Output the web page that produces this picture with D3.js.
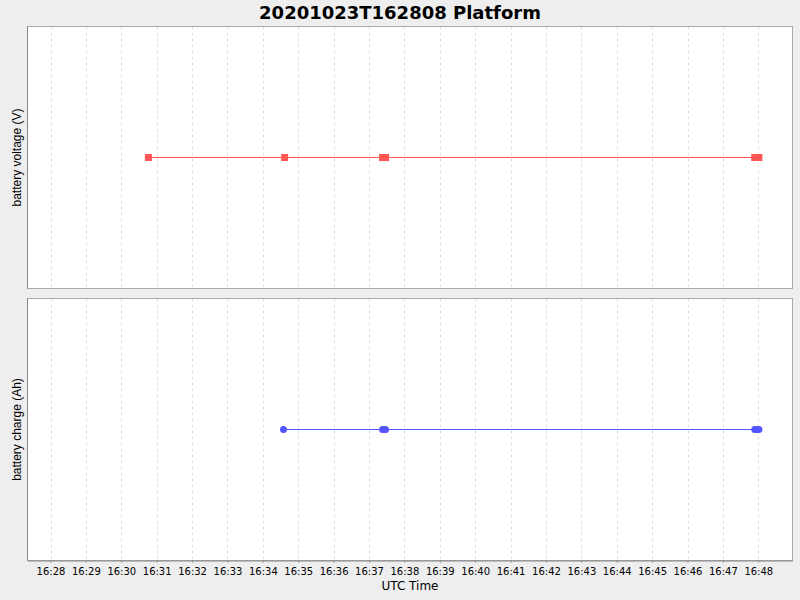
<!DOCTYPE html>
<html>
<head>
<meta charset="utf-8">
<script src="https://cdn.jsdelivr.net/npm/d3@7"></script>
<style>
  html, body { margin: 0; padding: 0; background: #eeeeee; }
  svg { display: block; font-family: "DejaVu Sans", sans-serif; }
</style>
</head>
<body>
<div id="canvas"></div>
<script>
(function(d3){

  // data (times UTC on 2020-10-23)
  var voltageTimes = ['16:30:46', '16:34:37', '16:37:23', '16:37:28', '16:47:54', '16:47:58', '16:48:01'],
      voltageValues = [12.0, 12.0, 12.0, 12.0, 12.0, 12.0, 12.0],
      chargeTimes = ['16:34:35', '16:37:23', '16:37:28', '16:47:54', '16:47:58', '16:48:01'],
      chargeValues = [0.0, 0.0, 0.0, 0.0, 0.0, 0.0],
      timeDomain = ['16:27:21', '16:48:58'],
      title = '20201023T162808 Platform',
      panelLabels = ['battery voltage (V)', 'battery charge (Ah)'];

  var parse = function(s){ return d3.utcParse('%Y-%m-%d %H:%M:%S')('2020-10-23 ' + s); };

  var canvas_d = {width: 800, height: 600},
      plot = {left: 27.5, right: 792.5},
      panels = [
        {top: 26.5, bottom: 288.5, times: voltageTimes, values: voltageValues,
         color: '#ff5555', shape: 'square', label: panelLabels[0]},
        {top: 298.5, bottom: 560.5, times: chargeTimes, values: chargeValues,
         color: '#5555ff', shape: 'circle', label: panelLabels[1]}
      ];

  var svg = d3.select('#canvas').append('svg')
      .attr('width', canvas_d.width)
      .attr('height', canvas_d.height);

  svg.append('rect')
      .attr('width', canvas_d.width)
      .attr('height', canvas_d.height)
      .attr('fill', '#eeeeee');

  var x = d3.scaleUtc()
      .domain(timeDomain.map(parse))
      .range([plot.left, plot.right]);

  var ticks = x.ticks(d3.utcMinute.every(1));

  svg.append('text')
      .attr('x', canvas_d.width / 2)
      .attr('y', 19)
      .attr('text-anchor', 'middle')
      .attr('font-size', 18)
      .attr('font-weight', 'bold')
      .text(title);

  panels.forEach(function(p){
    var v = p.values[0];
    var y = d3.scaleLinear()
        .domain([v - 1, v + 1])
        .range([p.bottom, p.top]);
    var py = function(d){ return Math.floor(y(d.v)); };

    var g = svg.append('g');

    g.append('rect')
        .attr('x', plot.left)
        .attr('y', p.top)
        .attr('width', plot.right - plot.left)
        .attr('height', p.bottom - p.top)
        .attr('fill', '#ffffff');

    // vertical grid
    g.selectAll('line.grid')
        .data(ticks)
      .enter().append('line')
        .attr('class', 'grid')
        .attr('x1', function(d){ return Math.round(x(d)) + 0.5; })
        .attr('x2', function(d){ return Math.round(x(d)) + 0.5; })
        .attr('y1', p.top)
        .attr('y2', p.bottom)
        .attr('stroke', '#dddddd')
        .attr('stroke-dasharray', '3,3');

    var pts = p.times.map(function(t, i){ return {t: parse(t), v: p.values[i]}; });

    g.append('path')
        .datum(pts)
        .attr('fill', 'none')
        .attr('stroke', p.color)
        .attr('stroke-width', 1)
        .attr('d', d3.line()
          .x(function(d){ return x(d.t); })
          .y(function(d){ return py(d) + 0.5; }));

    if (p.shape === 'square') {
      g.selectAll('rect.pt')
          .data(pts)
        .enter().append('rect')
          .attr('class', 'pt')
          .attr('x', function(d){ return x(d.t) - 3.5; })
          .attr('y', function(d){ return py(d) - 3; })
          .attr('width', 7)
          .attr('height', 7)
          .attr('fill', p.color);
    } else {
      g.selectAll('circle.pt')
          .data(pts)
        .enter().append('circle')
          .attr('class', 'pt')
          .attr('cx', function(d){ return x(d.t); })
          .attr('cy', function(d){ return py(d) + 0.5; })
          .attr('r', 3.5)
          .attr('fill', p.color);
    }

    // border
    g.append('rect')
        .attr('x', plot.left)
        .attr('y', p.top)
        .attr('width', plot.right - plot.left)
        .attr('height', p.bottom - p.top)
        .attr('fill', 'none')
        .attr('stroke', '#aaaaaa');

    g.append('line')
        .attr('x1', plot.left).attr('x2', plot.left)
        .attr('y1', p.top).attr('y2', p.bottom)
        .attr('stroke', '#888888');

    g.append('text')
        .attr('transform', 'translate(21,' + ((p.top + p.bottom) / 2) + ') rotate(-90)')
        .attr('text-anchor', 'middle')
        .attr('font-family', '"Liberation Sans", Arial, sans-serif')
        .attr('font-size', 12)
        .text(p.label);
  });

  // x axis under the lower panel
  var xAxis = svg.append('g')
      .attr('transform', 'translate(0,' + panels[1].bottom + ')')
      .call(d3.axisBottom(x)
        .ticks(d3.utcMinute.every(1))
        .tickFormat(d3.utcFormat('%H:%M'))
        .tickSize(2)
        .tickSizeOuter(0));

  xAxis.select('.domain').attr('stroke', '#888888');
  xAxis.selectAll('.tick line').attr('stroke', '#888888');
  xAxis.selectAll('.tick text')
      .attr('font-family', '"DejaVu Sans", sans-serif')
      .attr('font-size', 10)
      .attr('dy', '0.9em')
      .attr('fill', '#000');

  svg.append('text')
      .attr('x', (plot.left + plot.right) / 2)
      .attr('y', 590)
      .attr('text-anchor', 'middle')
      .attr('font-size', 12)
      .text('UTC Time');

})(d3);
</script>
</body>
</html>
